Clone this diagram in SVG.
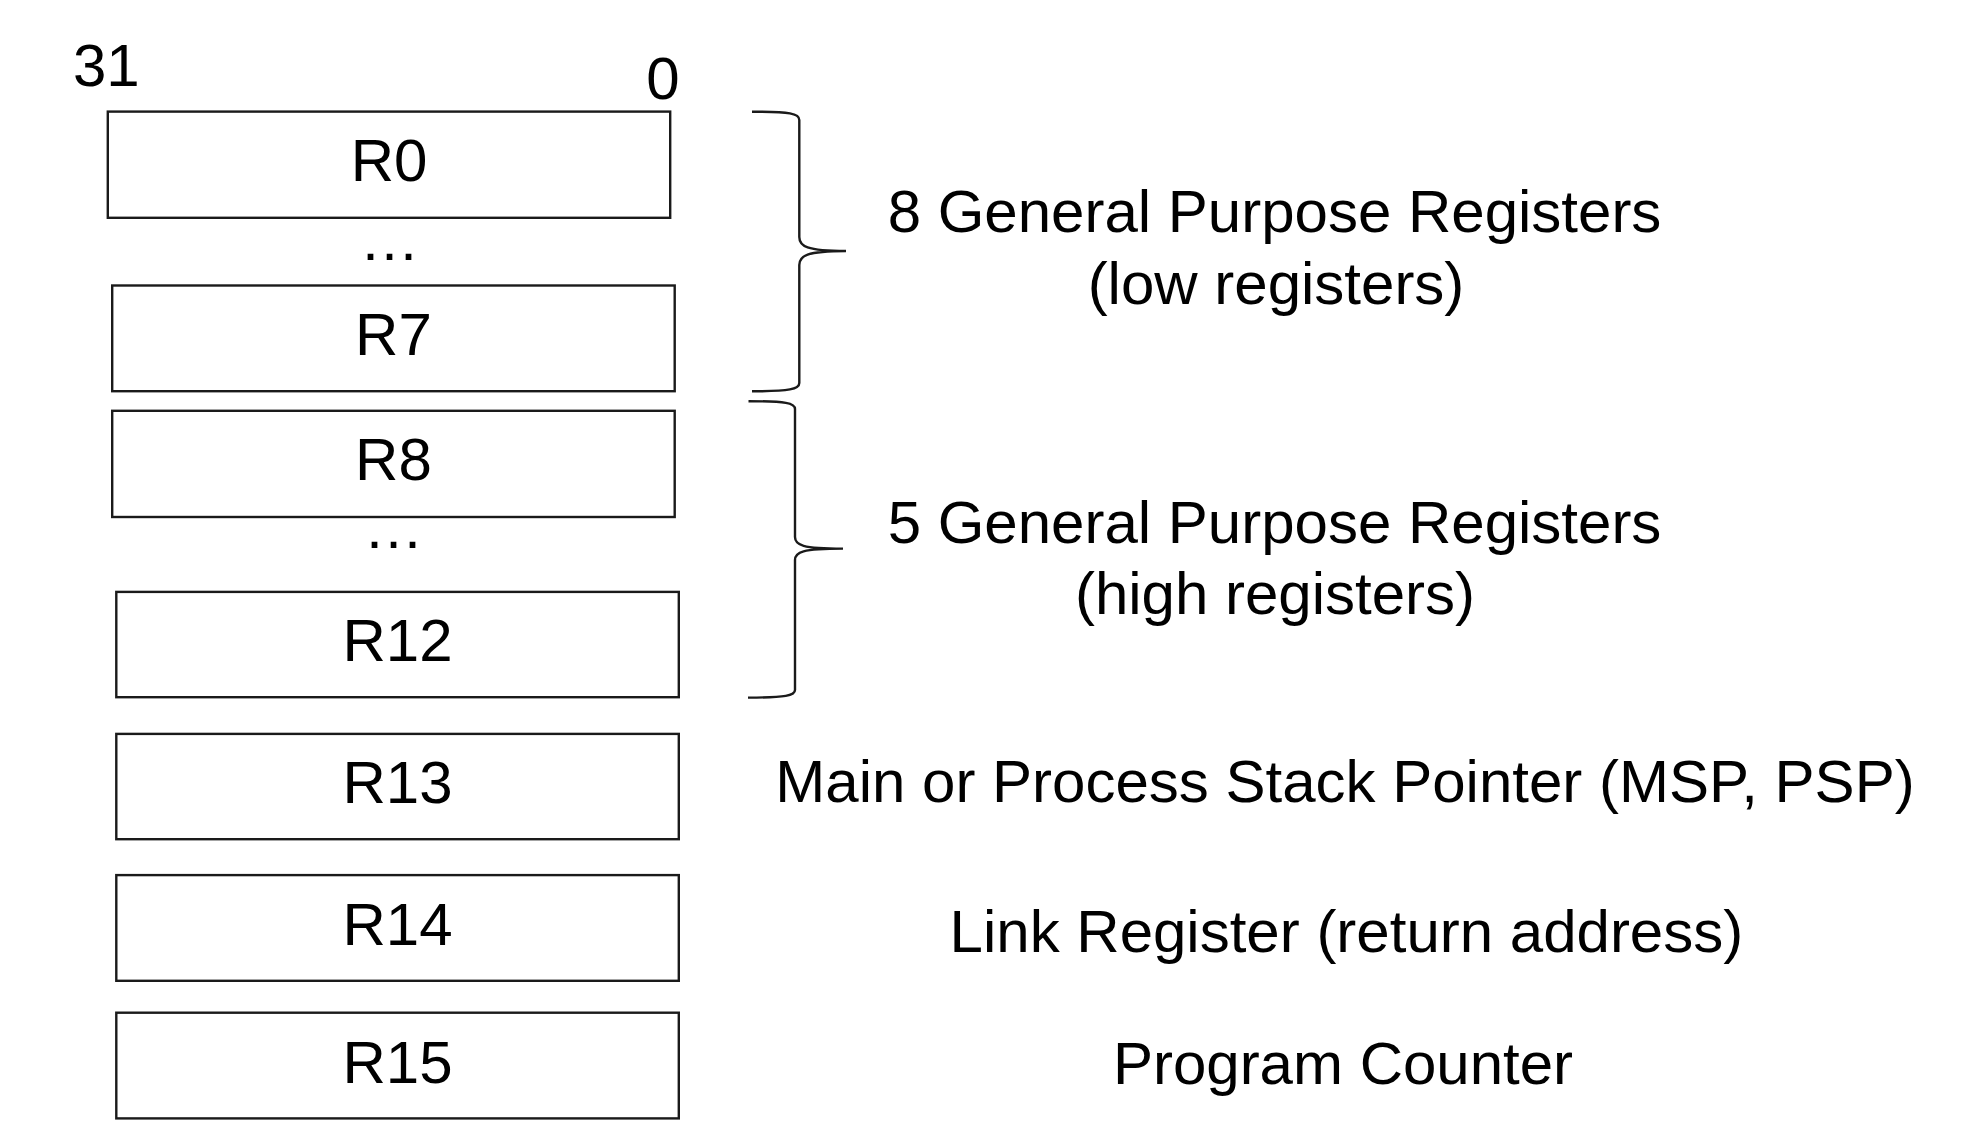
<svg xmlns="http://www.w3.org/2000/svg" width="1981" height="1129" viewBox="0 0 1981 1129">
<style>
text{font-family:"Liberation Sans",Arial,sans-serif;font-size:60px;fill:#000}
.c{text-anchor:middle}
.reg{fill:#fff;stroke:#1a1a1a;stroke-width:2.4}
.brace{fill:none;stroke:#1a1a1a;stroke-width:2.4}
</style>
<rect width="1981" height="1129" fill="#fff"/>
<g id="bits">
<text class="c" x="106.3" y="86.3">31</text>
<text class="c" x="663" y="98.6">0</text>
</g>
<g id="R0"><rect class="reg" x="107.8" y="111.6" width="562.4" height="106.2"/><text class="c" x="389" y="181">R0</text></g>
<g id="dots1"><text class="c" x="389.5" y="259.5">…</text></g>
<g id="R7"><rect class="reg" x="112.2" y="285.5" width="562.5" height="105.7"/><text class="c" x="393.4" y="354.5">R7</text></g>
<g id="R8"><rect class="reg" x="112.2" y="410.8" width="562.5" height="106.2"/><text class="c" x="393.4" y="480.2">R8</text></g>
<g id="dots2"><text class="c" x="393.4" y="548">…</text></g>
<g id="R12"><rect class="reg" x="116.3" y="591.9" width="562.5" height="105.3"/><text class="c" x="397.5" y="661.2">R12</text></g>
<g id="R13"><rect class="reg" x="116.3" y="733.9" width="562.5" height="105.3"/><text class="c" x="397.5" y="803.3">R13</text></g>
<g id="R14"><rect class="reg" x="116.3" y="875.1" width="562.5" height="105.7"/><text class="c" x="397.5" y="944.9">R14</text></g>
<g id="R15"><rect class="reg" x="116.3" y="1012.7" width="562.5" height="105.7"/><text class="c" x="397.5" y="1082.9">R15</text></g>
<g id="connectors">
<path class="brace" d="M752,111.7 C790,111.7 799.3,113.5 799.3,120 L799.3,237 C799.3,246 806,251 846,251 C806,251 799.3,256 799.3,265 L799.3,383 C799.3,389 790,391.3 752,391.3"/>
<path class="brace" d="M748.5,401.2 C786,401.2 795,403 795,409 L795,537 C795,545 802,548.6 843,548.6 C802,548.6 795,552 795,560 L795,690 C795,695.5 786,697.6 748,697.6"/>
</g>
<g id="low-label">
<text class="c" x="1274.5" y="232.3">8 General Purpose Registers</text>
<text class="c" x="1276" y="303.5">(low registers)</text>
</g>
<g id="high-label">
<text class="c" x="1274.5" y="542.7">5 General Purpose Registers</text>
<text class="c" x="1275" y="614">(high registers)</text>
</g>
<g id="sp-label"><text class="c" x="1345" y="801.6">Main or Process Stack Pointer (MSP, PSP)</text></g>
<g id="lr-label"><text class="c" x="1346.4" y="951.9">Link Register (return address)</text></g>
<g id="pc-label"><text class="c" x="1343" y="1084.3">Program Counter</text></g>
</svg>
